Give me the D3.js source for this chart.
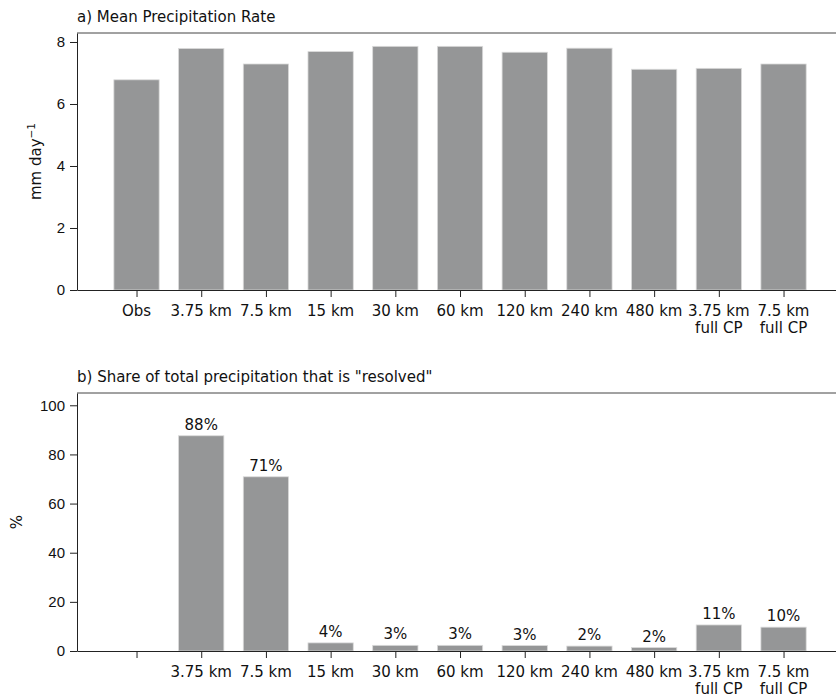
<!DOCTYPE html>
<html>
<head>
<meta charset="utf-8">
<script src="https://cdn.jsdelivr.net/npm/d3@7"></script>
<style>
  body { margin: 0; background: #fff; }
  svg { display: block; font-family: "DejaVu Sans", sans-serif; }
</style>
</head>
<body>
<div id="chart"></div>
<script>
// data
const categories = ["Obs", "3.75 km", "7.5 km", "15 km", "30 km", "60 km", "120 km", "240 km", "480 km", "3.75 km\nfull CP", "7.5 km\nfull CP"];
const meanRate = [6.78, 7.79, 7.29, 7.69, 7.86, 7.86, 7.67, 7.80, 7.12, 7.15, 7.29];
const resolvedShare = [null, 87.6, 70.9, 3.3, 2.3, 2.3, 2.2, 2.0, 1.4, 10.6, 9.7];
const resolvedLabels = ["", "88%", "71%", "4%", "3%", "3%", "3%", "2%", "2%", "11%", "10%"];
const ticksA = [0, 2, 4, 6, 8];
const ticksB = [0, 20, 40, 60, 80, 100];

const W = 836, H = 696;
const fontSize = 15;
const barColor = "#959697";

const svg = d3.select("#chart").append("svg")
  .attr("width", W).attr("height", H)
  .attr("viewBox", `0 0 ${W} ${H}`);

const x = d3.scaleLinear().domain([-0.92, 10.95]).range([77, 845]);
const barW = x(0.7) - x(0);

function panel(top, bottom, yMax, values, yTicks, title) {
  const y = d3.scaleLinear().domain([0, yMax]).range([bottom, top]);
  const g = svg.append("g");

  // bars
  g.append("g").selectAll("rect")
    .data(values.map((v, i) => ({ v, i })).filter(d => d.v != null))
    .enter().append("rect")
    .attr("x", d => x(d.i) - barW / 2)
    .attr("width", barW)
    .attr("y", d => y(d.v))
    .attr("height", d => y(0) - y(d.v))
    .attr("fill", barColor)
    .attr("stroke", "#dadada")
    .attr("stroke-width", 0.8);

  // y axis
  const ya = g.append("g")
    .attr("transform", `translate(${x.range()[0]},0)`)
    .call(d3.axisLeft(y).tickValues(yTicks).tickSize(7).tickPadding(5).tickSizeOuter(0));
  ya.selectAll("text").style("font-size", fontSize + "px").attr("fill", "#111");
  ya.select(".domain").attr("stroke", "#222");
  ya.selectAll(".tick line").attr("stroke", "#222");

  // x axis
  const xa = g.append("g")
    .attr("transform", `translate(0,${bottom})`)
    .call(d3.axisBottom(x).tickValues(d3.range(categories.length)).tickSize(7).tickPadding(5).tickSizeOuter(0).tickFormat(""));
  xa.select(".domain").attr("stroke", "#222");
  xa.selectAll(".tick line").attr("stroke", "#222");

  // top spine
  g.append("line")
    .attr("x1", x.range()[0]).attr("x2", x.range()[1])
    .attr("y1", top).attr("y2", top)
    .attr("stroke", "#444").attr("stroke-width", 1);

  // title
  g.append("text")
    .attr("x", x.range()[0]).attr("y", top - 11.5)
    .style("font-size", fontSize + "px")
    .attr("fill", "#111")
    .text(title);

  return { g, y, xa };
}

// each line of a tick label is its own text element
function addTickLabels(p, bottom, labels) {
  const rows = [];
  labels.forEach((d, i) => d.split("\n").forEach((t, k) => rows.push({ i, k, t })));
  p.g.append("g").selectAll("text")
    .data(rows.filter(r => r.t !== ""))
    .enter().append("text")
    .attr("x", r => x(r.i))
    .attr("y", r => bottom + 25.5 + r.k * 17)
    .attr("text-anchor", "middle")
    .attr("fill", "#111")
    .style("font-size", fontSize + "px")
    .text(r => r.t);
}

// panel a
const pa = panel(33, 290, 8.29, meanRate, ticksA, "a) Mean Precipitation Rate");
addTickLabels(pa, 290, categories);
pa.g.append("text")
  .attr("transform", `translate(41,${(33 + 290) / 2}) rotate(-90)`)
  .attr("text-anchor", "middle")
  .attr("fill", "#111")
  .style("font-size", fontSize + "px")
  .call(t => {
    t.append("tspan").text("mm day");
    t.append("tspan").attr("baseline-shift", "super").style("font-size", "10.5px").text("\u22121");
  });

// panel b
const pb = panel(393, 651, 105, resolvedShare, ticksB, "b) Share of total precipitation that is \"resolved\"");
addTickLabels(pb, 651, categories.map((c, i) => i === 0 ? "" : c));
pb.g.append("g").selectAll("text")
  .data(resolvedShare.map((v, i) => ({ v, i, t: resolvedLabels[i] })).filter(d => d.v != null))
  .enter().append("text")
  .attr("x", d => x(d.i))
  .attr("y", d => pb.y(d.v) - 6)
  .attr("text-anchor", "middle")
  .attr("fill", "#111")
  .style("font-size", fontSize + "px")
  .text(d => d.t);
pb.g.append("text")
  .attr("transform", `translate(22,${(393 + 651) / 2}) rotate(-90)`)
  .attr("text-anchor", "middle")
  .attr("fill", "#111")
  .style("font-size", fontSize + "px")
  .text("%");
</script>
</body>
</html>
